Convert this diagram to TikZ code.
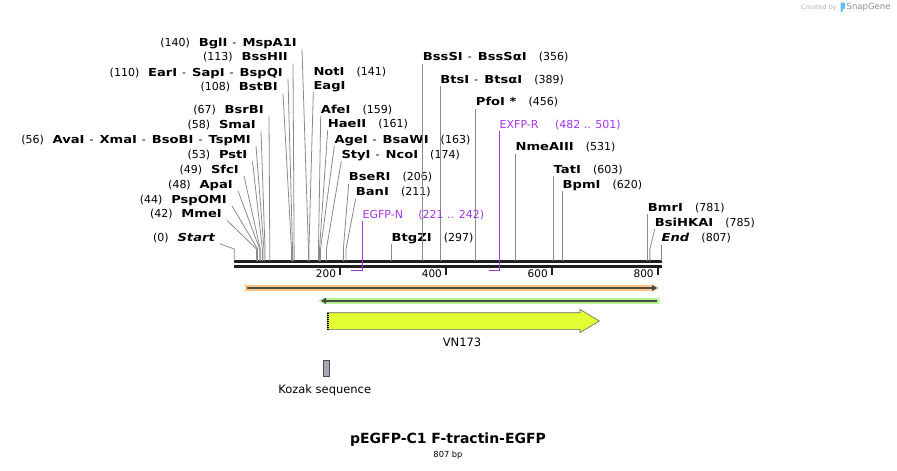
\documentclass[tikz,border=0pt]{standalone}
\usepackage{fontspec}
\setmainfont{DejaVu Sans}
\newfontfamily\sitefont{DejaVu Sans}[FakeStretch=1.19]
\usetikzlibrary{arrows.meta}

\definecolor{cutgray}{HTML}{8A8A8A}
\definecolor{primer}{HTML}{A535E8}
\definecolor{bandorange}{HTML}{FFCA80}
\definecolor{bandgreen}{HTML}{B6F08E}
\definecolor{bandline}{HTML}{4A4A4A}
\definecolor{vnfill}{HTML}{E1FF33}
\definecolor{kozakgray}{HTML}{A3A7AF}
\definecolor{sglogo}{HTML}{62BDF0}

\newcommand\bp[1]{234.3+0.5294*#1}
\newcommand\nm[1]{{\sitefont\bfseries #1}}
\newcommand\gap{\hspace{0.8em}}
\newcommand\gapr{\hspace{1.1em}}
\newcommand\dsh{\hspace{0.45em}-\hspace{0.55em}}

\begin{document}
\begin{tikzpicture}[x=1pt, y=-1pt,
  lbl/.style={font=\fontsize{11}{14.3}\selectfont, inner ysep=1pt,
    text height=7.5pt, text depth=1.5pt},
  lft/.style={lbl, anchor=east, inner xsep=5pt},
  rgt/.style={lbl, anchor=west, inner xsep=0pt},
  cut/.style={draw=cutgray, line width=0.8pt},
  primerline/.style={draw=primer, line width=1.6pt},
  backbone/.style={draw=black!88, line width=3pt},
  tick/.style={draw=black!88, line width=2pt},
  tlbl/.style={font=\fontsize{10.5}{12}\selectfont, anchor=east, inner sep=1pt}]
\useasboundingbox (0,0) rectangle (897,471);

% sequence line
\coordinate (bbL) at ({\bp{0}},261.6);
\coordinate (bbR) at ({\bp{807}},261.6);
\coordinate (bbL2) at ({\bp{0}},266.6);
\coordinate (bbR2) at ({\bp{807}},266.6);
\draw[backbone] (bbL) -- (bbR);
\draw[backbone] (bbL2) -- (bbR2);
\foreach \t in {200,400,600,800}{
  \draw[tick] ({\bp{\t}},266) -- ({\bp{\t}},275);
  \node[tlbl] (T\t) at ({\bp{\t}-3},274) {\t};
}

% sites left of the line
\foreach \site/\yy/\xx/\txt in {
  140/42.5/297/{(140)\gap\nm{BglI}\dsh\nm{MspA1I}},
  113/56.7/288/{(113)\gap\nm{BssHII}},
  110/72.3/283/{(110)\gap\nm{EarI}\dsh\nm{SapI}\dsh\nm{BspQI}},
  108/86.7/278/{(108)\gap\nm{BstBI}},
  67/109.5/264/{(67)\gap\nm{BsrBI}},
  58/124.3/256/{(58)\gap\nm{SmaI}},
  56/139/251/{(56)\gap\nm{AvaI}\dsh\nm{XmaI}\dsh\nm{BsoBI}\dsh\nm{TspMI}},
  53/154.5/247.5/{(53)\gap\nm{PstI}},
  49/169/239/{(49)\gap\nm{SfcI}},
  48/184/233/{(48)\gap\nm{ApaI}},
  44/199/227/{(44)\gap\nm{PspOMI}},
  42/213.5/222/{(42)\gap\nm{MmeI}},
  0/237/215/{(0)\gap\nm{\itshape Start}}}{
  \node[lft] (L\site) at (\xx+5,\yy+1.2) {\txt};
  \draw[cut] (L\site.south east) -- ({\bp{\site}},249) -- ({\bp{\site}},261);
}

% sites right of the line
\node[rgt, align=left] (R141) at (313.3,86.5) {\nm{NotI}\gapr(141)\\\nm{EagI}};
\draw[cut] (R141.south west) -- ({\bp{141}},249) -- ({\bp{141}},261);
\foreach \site/\yy/\xx/\txt in {
  159/109.3/320.7/{\nm{AfeI}\gapr(159)},
  161/123.3/327.7/{\nm{HaeII}\gapr(161)},
  163/139/334.3/{\nm{AgeI}\dsh\nm{BsaWI}\gapr(163)},
  174/154.3/341.3/{\nm{StyI}\dsh\nm{NcoI}\gapr(174)},
  206/176.7/348.7/{\nm{BseRI}\gapr(206)},
  211/191.7/355.7/{\nm{BanI}\gapr(211)},
  297/237.3/{\bp{297}}/{\nm{BtgZI}\gapr(297)},
  356/56.7/{\bp{356}}/{\nm{BssSI}\dsh\nm{BssSαI}\gapr(356)},
  389/79.3/{\bp{389}}/{\nm{BtsI}\dsh\nm{BtsαI}\gapr(389)},
  456/101.7/{\bp{456}}/{\nm{PfoI *}\gapr(456)},
  531/146.7/{\bp{531}}/{\nm{NmeAIII}\gapr(531)},
  603/169/{\bp{603}}/{\nm{TatI}\gapr(603)},
  620/184/{\bp{620}}/{\nm{BpmI}\gapr(620)},
  781/207.3/{\bp{781}}/{\nm{BmrI}\gapr(781)},
  785/222.3/654.7/{\nm{BsiHKAI}\gapr(785)},
  807/237.7/{\bp{807}}/{\nm{\itshape End}\gapr(807)}}{
  \node[rgt] (R\site) at ({\xx},{\yy+1.2}) {\txt};
  \draw[cut] (R\site.south west) -- ({\bp{\site}},249) -- ({\bp{\site}},261);
}

% primers
\node[rgt, text=primer] (EGFPN) at ({\bp{242}},215.2) {EGFP-N\hspace{1.4em}(221 .. 242)};
\draw[primerline] (EGFPN.south west) -- ({\bp{242}},270.5) -- ({\bp{221}},270.5);
\node[rgt, text=primer] (EXFPR) at ({\bp{501}},125.2) {EXFP-R\hspace{1.5em}(482 .. 501)};
\draw[primerline] (EXFPR.south west) -- ({\bp{501}},270.5) -- ({\bp{482}},270.5);

% features
\filldraw[fill=bandorange, draw=bandorange!85!orange, line width=0.5pt]
  (245,285.2) -- (653,285.2) -- (658.5,288) -- (653,290.8) -- (245,290.8) -- cycle;
\draw[bandline, line width=1.8pt, -{Triangle[length=5pt,width=6pt]}] (246.7,288) -- (657,288);
\filldraw[fill=bandgreen, draw=bandgreen!85!green, line width=0.5pt]
  (659,298.3) -- (324.5,298.3) -- (319,300.8) -- (324.5,303.3) -- (659,303.3) -- cycle;
\draw[bandline, line width=1.8pt, -{Triangle[length=5pt,width=6pt]}] (657,300.8) -- (321,300.8);

\filldraw[fill=vnfill, draw=black!60, line width=0.6pt]
  (327.3,312.7) -- (580,312.7) -- (580,309.3) -- (599.3,321) -- (580,332.7)
  -- (580,329.3) -- (327.3,329.3) -- cycle;
\draw[black, line width=2pt, dash pattern=on 1pt off 1pt] (328.4,312.7) -- (328.4,329.3);
\node[lbl, font=\fontsize{11.5}{13}\selectfont] (VN173) at (462,343.5) {VN173};

\filldraw[fill=kozakgray, draw=black!70, line width=0.6pt] (323.3,360.7) rectangle (329.3,376);
\node[lbl, font=\fontsize{11.5}{13}\selectfont] (kozak) at (324.7,390.8) {Kozak sequence};

% title
\node[font=\fontsize{14}{16}\selectfont\bfseries] (title) at (448,440) {pEGFP-C1 F-tractin-EGFP};
\node[font=\fontsize{8.3}{10}\selectfont] (size) at (448,455.5) {807 bp};

% badge
\node[font=\fontsize{6.5}{7}\selectfont, text=black!30, anchor=east, inner sep=0pt] (madeby) at (837,7.5) {Created by};
\fill[sglogo, rounded corners=1pt] (840.5,2.5) rectangle (845,9) (840.5,2.5) rectangle (842.5,12.5);
\node[font=\fontsize{8.5}{9}\selectfont, text=black!45, anchor=west, inner sep=0pt] (snapgene) at (846.5,7.5) {SnapGene};
\end{tikzpicture}
\end{document}
